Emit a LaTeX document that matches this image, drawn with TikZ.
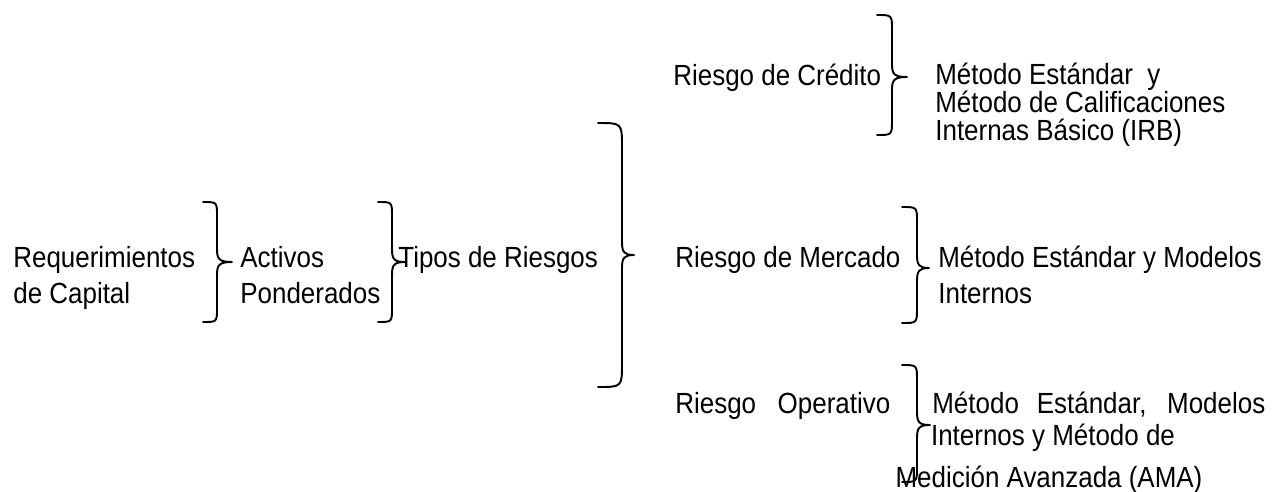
\documentclass[tikz,border=0pt]{standalone}
\usepackage{fontspec}
\setmainfont{Liberation Sans}[FakeStretch=0.89]
\usetikzlibrary{positioning}

\tikzset{
    lbl/.style={anchor=base west, inner sep=0pt, font=\fontsize{16.6}{20}\selectfont},
    lblc/.style={anchor=base, inner sep=0pt, font=\fontsize{16.6}{20}\selectfont},
    bracestyle/.style={draw=black, line width=1.1pt, line cap=round, line join=round}
}

% right curly brace: start x, spine x, tip x, top y, tip y, bottom y
\newcommand{\curlybrace}[6]{%
    \draw[bracestyle] (#1,#4) .. controls (#2,#4) .. (#2,{#4+#2-#1})
        -- (#2,#5-13) .. controls (#2,#5-3) and (#2+2,#5) .. (#3,#5)
        .. controls (#2+2,#5) and (#2,#5+3) .. (#2,#5+13)
        -- (#2,{#6-#2+#1}) .. controls (#2,#6) .. (#1,#6);}

\begin{document}
\begin{tikzpicture}[x=0.02cm, y=-0.02cm]
            \useasboundingbox[fill=white] (0,0) rectangle (1274,491);
            % first level
            \node[lbl] (req1) at (13,267) {Requerimientos};
            \node[lbl] (req2) at (13,303) {de Capital};
            \node[lbl] (act1) at (240,267) {Activos};
            \node[lbl] (act2) at (240,303) {Ponderados};
            \node[lbl] (tipos) at (398,267) {Tipos de Riesgos};
            % risk types
            \node[lbl] (cred) at (673,85) {Riesgo de Crédito};
            \node[lbl] (merc) at (675,267) {Riesgo de Mercado};
            \node[lbl] (oper) at (675,413) {\makebox[4.3cm][s]{Riesgo Operativo}};
            % methods
            \node[lbl] (cred1) at (935,84) {Método Estándar\ \ y};
            \node[lbl] (cred2) at (935,112) {Método de Calificaciones};
            \node[lbl] (cred3) at (935,140) {Internas Básico (IRB)};
            \node[lbl] (merc1) at (938,267) {Método Estándar y Modelos};
            \node[lbl] (merc2) at (938,303) {Internos};
            \node[lbl] (oper1) at (932,413) {\makebox[6.66cm][s]{Método Estándar, Modelos}};
            \node[lblc] (oper2) at (1053,445) {Internos y Método de};
            \node[lblc] (oper3) at (1049,487) {Medición Avanzada (AMA)};
            % braces
            \curlybrace{203}{217}{232}{202}{262}{322}
            \curlybrace{378}{392}{405}{202}{262}{322}
            \curlybrace{598}{622}{634}{123}{255}{387}
            \curlybrace{877}{892}{907}{15}{77}{135}
            \curlybrace{902}{917}{929}{207}{268}{323}
            \curlybrace{902}{917}{930}{365}{425}{482}
        \end{tikzpicture}
\end{document}
